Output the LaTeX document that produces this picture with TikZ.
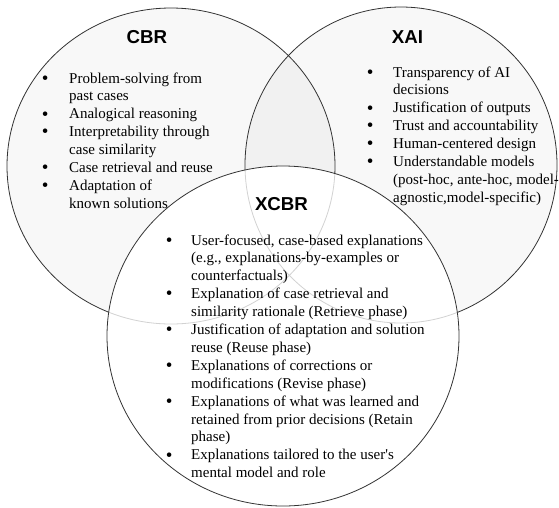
\documentclass[tikz,border=0pt]{standalone}
\usepackage{fontspec}
\setmainfont{Liberation Serif}
\newfontfamily\headfont{Liberation Sans}
\newfontfamily\rawserif{Liberation Serif}
\newcommand\vlist[2]{\begin{tabular}[t]{@{}l@{\hspace{#1}}l@{}}#2\end{tabular}}
\newcommand\bul{\raisebox{-1.2pt}{\fontsize{19}{19}\selectfont\textbullet}}
\definecolor{setgray}{HTML}{F8F8F8}
\definecolor{lensgray}{HTML}{F1F1F1}
\definecolor{edgedark}{HTML}{333333}
\definecolor{edgefaint}{HTML}{D2D2D2}
\tikzset{
  edge/.style={draw=edgedark, line width=0.8pt},
  faintedge/.style={draw=edgefaint, line width=0.8pt},
  settitle/.style={font=\headfont\bfseries\fontsize{18.7}{22}\selectfont, inner sep=0pt, anchor=base},
  itemlist/.style={font=\fontsize{15}{17.9}\selectfont, inner sep=0pt, anchor=base west}
}
\def\cbrshape{(171,166) ellipse [x radius=164pt, y radius=158pt]}
\def\xaishape{(401,165) ellipse [x radius=156pt, y radius=158pt]}
\def\xcbrshape{(283,336) ellipse [x radius=176pt, y radius=170pt]}
\begin{document}
\begin{tikzpicture}[x=1pt,y=-1pt]
\useasboundingbox (0,0) rectangle (559,507);
% set fills
\fill[setgray] \cbrshape;
\fill[setgray] \xaishape;
\begin{scope}
  \clip \cbrshape;
  \fill[lensgray] \xaishape;
\end{scope}
\path[edge] \cbrshape;
\path[edge] \xaishape;
% XCBR on top
\fill[white] \xcbrshape;
\begin{scope}
  \clip \xcbrshape;
  \path[faintedge] \cbrshape;
  \path[faintedge] \xaishape;
\end{scope}
\path[edge] \xcbrshape;
% titles
\node[settitle] (cbrtitle) at (147,43) {CBR};
\node[settitle] (xaititle) at (407.5,43) {XAI};
\node[settitle] (xcbrtitle) at (281.5,210) {XCBR};
% lists
\node[itemlist] (cbrlist) at (41.7,83) {\vlist{20.65pt}{%
\bul & Problem-solving from\\
 & past cases\\
\bul & Analogical reasoning\\
\bul & Interpretability through\\
 & case similarity\\
\bul & Case retrieval and reuse\\
\bul & Adaptation of\\
 & known solutions}};
\node[itemlist] (xailist) at (366.7,77) {\vlist{19.65pt}{%
\bul & Transparency of AI\\
 & decisions\\
\bul & Justification of outputs\\
\bul & Trust and accountability\\
\bul & Human-centered design\\
\bul & Understandable models\\
 & (post-hoc, ante-hoc, model-\\
 & agnostic,model-specific)}};
\node[itemlist] (xcbrlist) at (165.7,245) {\vlist{18.65pt}{%
\bul & User-focused, case-based explanations\\
 & (e.g., explanations-by-examples or\\
 & counterfactuals)\\
\bul & Explanation of case retrieval and\\
 & similarity rationale (Retrieve phase)\\
\bul & Justification of adaptation and solution\\
 & reuse (Reuse phase)\\
\bul & Explanations of corrections or\\
 & modifications (Revise phase)\\
\bul & Explanations of what was learned and\\
 & retained from prior decisions (Retain\\
 & phase)\\
\bul & Explanations tailored to the user{\rawserif'}s\\
 & mental model and role}};
\end{tikzpicture}
\end{document}
